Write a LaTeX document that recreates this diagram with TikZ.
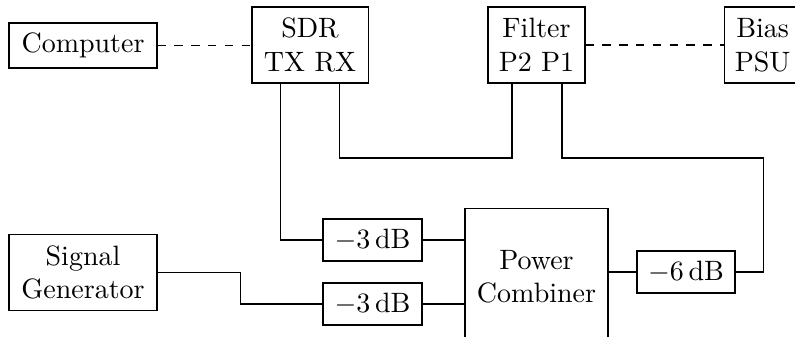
\documentclass[tikz,border=0pt]{standalone}
\usetikzlibrary{positioning,calc}
\begin{document}
\begin{tikzpicture}[
  BLK/.style={draw, align=center, inner sep=3.33pt},
  TWO/.style={BLK, minimum height=0.954cm},
  ATT/.style={BLK, minimum width=1.242cm, minimum height=0.527cm},
  LNK/.style={dashed}
]
\useasboundingbox (0,0) rectangle (9.977,4.217);

% top row
\node[BLK, minimum width=1.857cm, minimum height=0.565cm] (comp) at (1.042,3.646) {Computer};
\node[TWO, minimum width=1.456cm] (sdr) at (3.891,3.652) {SDR\\TX RX};
\node[TWO, minimum width=1.217cm] (flt) at (6.733,3.652) {Filter\\P2 P1};
\node[TWO, minimum width=0.95cm] (bias) at (9.57,3.652) {Bias\\PSU};

% bottom row
\node[TWO, minimum width=1.857cm] (sg) at (1.042,0.797) {Signal\\Generator};
\node[ATT] (att1) at (4.675,1.205) {$-3\,\mathrm{dB}$};
\node[ATT] (att2) at (4.675,0.402) {$-3\,\mathrm{dB}$};
\node[BLK, minimum width=1.795cm, minimum height=1.72cm] (comb) at (6.733,0.746) {Power\\Combiner};
\node[ATT, minimum width=1.23cm] (att6) at (8.609,0.803) {$-6\,\mathrm{dB}$};

% ports
\coordinate (tx) at ($(sdr.south west)!0.25!(sdr.south east)$);
\coordinate (rx) at ($(sdr.south west)!0.75!(sdr.south east)$);
\coordinate (p2) at ($(flt.south west)!0.25!(flt.south east)$);
\coordinate (p1) at ($(flt.south west)!0.76!(flt.south east)$);
\coordinate (bend) at (9.576,2.234);

% control links
\draw[LNK] (comp.east) -- (comp.east -| sdr.west);
\draw[LNK] (flt.east) -- (flt.east -| bias.west);

% rf links
\draw (tx) |- (att1.west);
\draw (rx) |- (bend -| p2) -- (p2);
\draw (p1) |- (bend) |- (att6.east);
\draw (sg.east) -- ++(1.042,0) |- (att2.west);
\draw (att1.east) -- (att1.east -| comb.west);
\draw (att2.east) -- (att2.east -| comb.west);
\draw (att6.west -| comb.east) -- (att6.west);
\end{tikzpicture}
\end{document}
